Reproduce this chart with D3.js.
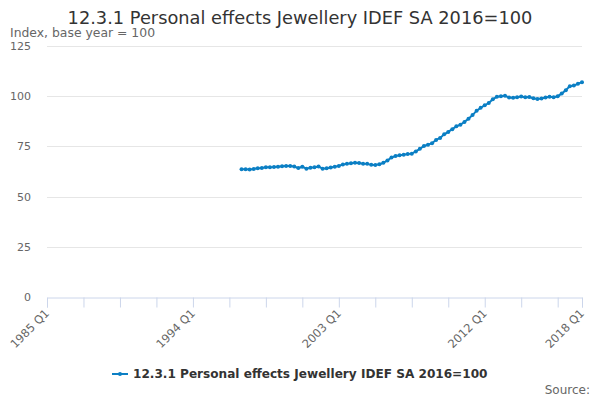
<!DOCTYPE html>
<html>
<head>
<meta charset="utf-8">
<script src="https://cdn.jsdelivr.net/npm/d3@7"></script>
<style>
  body { margin: 0; background: #fff; }
  svg { font-family: "DejaVu Sans", sans-serif; }
</style>
</head>
<body>
<svg id="chart"></svg>
<script>
const width = 600;
const height = 400;

const seriesName = "12.3.1 Personal effects Jewellery IDEF SA 2016=100";
const startQuarter = "1997 Q1";
// quarterly values, 1997 Q1 .. 2018 Q1
const values = [
  63.6, 63.6, 63.5, 63.8, 64.1, 64.2, 64.6, 64.6, 64.7, 64.9,
  65.1, 65.2, 65.2, 65.0, 64.2, 64.9, 63.9, 64.4, 64.6, 65.0,
  63.9, 64.1, 64.5, 64.9, 65.3, 66.0, 66.3, 66.6, 66.9, 66.7,
  66.4, 66.3, 65.8, 65.7, 66.1, 66.8, 68.0, 69.5, 70.2, 70.6,
  70.8, 71.2, 71.4, 72.5, 73.8, 75.2, 75.8, 76.6, 78.2, 79.2,
  81.0, 82.2, 83.6, 85.0, 85.8, 87.2, 88.8, 90.6, 92.8, 94.2,
  95.5, 96.6, 98.5, 99.7, 100.0, 100.2, 99.4, 99.2, 99.5, 99.8,
  99.5, 99.6, 99.0, 98.6, 98.9, 99.4, 99.7, 99.5, 100.0, 101.3,
  103.0, 105.0, 105.3, 106.2, 107.0
];
const xRange = ["1985 Q1", "2018 Q1"];
const xTickStep = 9;      // quarters between tick marks
const xLabels = ["1985 Q1", "1994 Q1", "2003 Q1", "2012 Q1", "2018 Q1"];
const yTicks = [0, 25, 50, 75, 100, 125];

// quarter label -> running quarter number
const qNum = (s) => {
  const [y, q] = s.split(" Q");
  return (+y) * 4 + (+q - 1);
};

const data = values.map((v, i) => ({ q: qNum(startQuarter) + i, v: v }));

const margin = { top: 46, right: 18, bottom: 103, left: 47 };

const svg = d3.select("#chart")
  .attr("width", width)
  .attr("height", height);

const x = d3.scaleLinear()
  .domain(xRange.map(qNum))
  .range([margin.left, width - margin.right]);

const y = d3.scaleLinear()
  .domain([0, 125])
  .range([height - margin.bottom, margin.top]);

// title
svg.append("text")
  .attr("x", 300)
  .attr("y", 24)
  .attr("text-anchor", "middle")
  .attr("font-size", "17.8px")
  .attr("fill", "#333")
  .text(seriesName);

svg.append("text")
  .attr("x", 10)
  .attr("y", 37)
  .attr("font-size", "12.4px")
  .attr("fill", "#666")
  .text("Index, base year = 100");

// grid + y labels
svg.append("g")
  .selectAll("line")
  .data(yTicks.filter((d) => d > 0))
  .join("line")
  .attr("x1", margin.left)
  .attr("x2", width - margin.right)
  .attr("y1", (d) => Math.round(y(d)) + 0.5)
  .attr("y2", (d) => Math.round(y(d)) + 0.5)
  .attr("stroke", "#e6e6e6");

svg.append("g")
  .selectAll("text")
  .data(yTicks)
  .join("text")
  .attr("x", 31)
  .attr("y", (d) => y(d) + 4)
  .attr("text-anchor", "end")
  .attr("font-size", "11px")
  .attr("fill", "#666")
  .text((d) => d);

// x axis
const x0 = qNum(xRange[0]), x1 = qNum(xRange[1]);
const tickVals = d3.range(x0, x1, xTickStep).concat([x1]);

const xAxis = svg.append("g")
  .attr("transform", "translate(0," + (Math.round(y(0)) + 0.5) + ")")
  .call(d3.axisBottom(x).tickValues(tickVals).tickSize(10).tickFormat(""));
xAxis.select(".domain").attr("stroke", "#ccd6eb");
xAxis.selectAll(".tick line").attr("stroke", "#ccd6eb");

svg.append("g")
  .selectAll("text")
  .data(xLabels)
  .join("text")
  .attr("transform", (d) => "translate(" + (x(qNum(d)) + 3) + "," + (y(0) + 17) + ") rotate(-45)")
  .attr("text-anchor", "end")
  .attr("font-size", "11.5px")
  .attr("fill", "#666")
  .text((d) => d);

// series
const color = "#0b7fc4";
const line = d3.line()
  .x((d) => x(d.q))
  .y((d) => y(d.v));

svg.append("path")
  .datum(data)
  .attr("d", line)
  .attr("fill", "none")
  .attr("stroke", color)
  .attr("stroke-width", 2);

svg.append("g")
  .selectAll("circle")
  .data(data)
  .join("circle")
  .attr("cx", (d) => x(d.q))
  .attr("cy", (d) => y(d.v))
  .attr("r", 2)
  .attr("fill", color);

// legend
const lg = svg.append("g").attr("transform", "translate(112,374)");
lg.append("line")
  .attr("x1", 0).attr("x2", 16)
  .attr("y1", 0).attr("y2", 0)
  .attr("stroke", color)
  .attr("stroke-width", 2);
lg.append("circle").attr("cx", 8).attr("cy", 0).attr("r", 2).attr("fill", color);
lg.append("text")
  .attr("x", 21)
  .attr("y", 4)
  .attr("font-size", "12.1px")
  .attr("font-weight", "bold")
  .attr("fill", "#333")
  .text(seriesName);

svg.append("text")
  .attr("x", 590)
  .attr("y", 394)
  .attr("text-anchor", "end")
  .attr("font-size", "12px")
  .attr("fill", "#666")
  .text("Source:");
</script>
</body>
</html>
